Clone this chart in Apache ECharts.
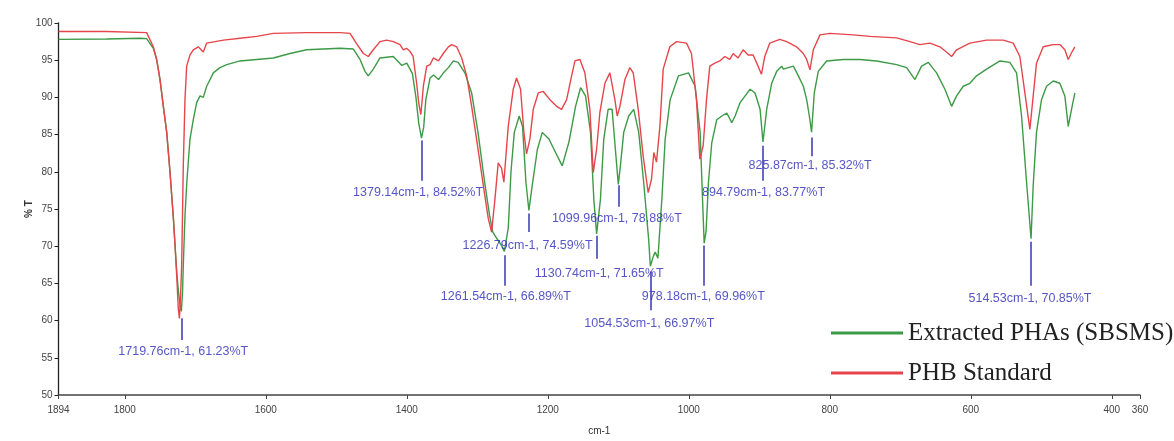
<!DOCTYPE html>
<html>
<head>
<meta charset="utf-8">
<title>FTIR PHA vs PHB</title>
<script src="https://cdn.jsdelivr.net/npm/echarts@6.0.0/dist/echarts.min.js"></script>
<style>
  html, body { margin: 0; padding: 0; background: #fff; }
  #chart_container { width: 1174px; height: 441px; }
</style>
</head>
<body>
<div id="chart_container"></div>
<script>
"use strict";

// wavenumber ticks (cm-1), axis runs high -> low
const xTicks = [1894, 1800, 1600, 1400, 1200, 1000, 800, 600, 400, 360];
const seriesNames = ['Extracted PHAs (SBSMS)', 'PHB Standard'];

// [wavenumber, %T]
const phaSpectrum = [
    [1894, 97.8], [1826, 97.85], [1825, 97.95], [1778, 97.95], [1769, 97.9], [1759.5, 96.6],
    [1754.8, 95.1], [1750, 92.4], [1745.3, 88.8], [1740.5, 85.3], [1735.8, 79.9], [1731, 73.7],
    [1728.7, 70.1], [1726.3, 66.6], [1724, 64], [1721.5, 62], [1719.76, 61.23], [1718, 64],
    [1717, 67.4], [1714.6, 74.1], [1712, 78.6], [1707.5, 84.4], [1702.8, 87], [1698, 89.3],
    [1693.3, 90.2], [1688.6, 90], [1683.8, 91.5], [1674.4, 93.3], [1665, 94], [1655.4, 94.4],
    [1636.5, 94.9], [1612.9, 95.1], [1589.3, 95.3], [1565.6, 95.9], [1542, 96.4], [1518.4, 96.5],
    [1494.7, 96.6], [1475.8, 96.5], [1466.3, 95.1], [1459.2, 93.5], [1454.6, 92.9], [1447.5, 93.8],
    [1438, 95.3], [1419.1, 95.5], [1407, 94.3], [1400, 94.6], [1392, 93.2], [1387, 90],
    [1383, 86.5], [1379.14, 84.52], [1376, 86], [1373, 89.7], [1367, 92.6], [1362, 93],
    [1355, 92.4], [1348, 93.3], [1341, 94], [1334, 94.9], [1327, 94.7], [1317.6, 93.3],
    [1308, 90.6], [1299, 85.3], [1289.6, 78.6], [1282.5, 74.1], [1278, 71.9], [1272, 71],
    [1265, 70], [1261.54, 69.3], [1256, 72.5], [1252.2, 80], [1247.5, 85.3], [1240.5, 87.5],
    [1235.8, 86.1], [1231, 78.6], [1226.79, 74.8], [1222, 78.2], [1214.8, 83], [1207.8, 85.3],
    [1198.4, 84.4], [1189, 82.6], [1179.5, 80.8], [1170, 84], [1160.6, 88.8], [1153.5, 91.3],
    [1146.5, 90.2], [1139.4, 85.3], [1134.7, 76.3], [1130.74, 71.65], [1125.3, 76.3], [1120.6, 84.4],
    [1114.4, 88.4], [1108.8, 88.4], [1104.1, 83], [1099.96, 78.3], [1097, 80.8], [1092.3, 85.3],
    [1085.2, 87.5], [1078.1, 88.4], [1071, 85.3], [1064, 78.6], [1057, 71], [1054.5, 67.3],
    [1050.5, 68.6], [1047.6, 69.2], [1043.8, 68.4], [1038.2, 76.3], [1033.5, 84.4], [1026.4, 89.7],
    [1014.6, 92.9], [1000.4, 93.3], [991, 91.5], [983.9, 85.3], [980.5, 76.3], [978.18, 70.4],
    [975.5, 72], [972.1, 78.6], [967.4, 83.9], [960.3, 87], [953.2, 87.5], [946.1, 87.9],
    [939, 86.6], [934.3, 87.5], [927.2, 89.3], [920.1, 90.2], [913, 91.1], [906, 90.6],
    [898.9, 88.4], [894.79, 84], [889.5, 88.4], [882.4, 91.9], [875.3, 93.5], [868.2, 94.2],
    [865.9, 93.8], [851.7, 94.2], [844.6, 92.9], [837.5, 91.5], [832.8, 89.7], [829, 87.5],
    [825.87, 85.32], [822, 90.6], [816.3, 93.5], [804.5, 94.9], [780.9, 95.1], [757.2, 95.1],
    [733.6, 94.9], [705.2, 94.4], [691, 94], [679.2, 92.4], [669.8, 94.2], [660.3, 94.7],
    [648.5, 93.3], [636.7, 91.1], [627.2, 88.8], [620.1, 90.2], [610.7, 91.5], [601.3, 91.9],
    [591.8, 92.9], [577.6, 93.8], [558.7, 94.9], [544.6, 94.7], [535.1, 93.3], [528, 87.5],
    [520.9, 78.6], [514.53, 71], [511.5, 78.2], [506.8, 85.3], [499.7, 89.7], [492.6, 91.5],
    [483.1, 92.2], [473.7, 91.9], [466.6, 90.2], [461.8, 86.1], [457.1, 88.4], [452.4, 90.6]
];

const phbSpectrum = [
    [1894, 98.85], [1826, 98.85], [1825, 98.7], [1769, 98.7], [1759.5, 96.8], [1754.8, 95.1],
    [1750, 92.4], [1745.3, 88.8], [1740.5, 85.3], [1735.8, 79.9], [1731, 73.7], [1728.7, 70.1],
    [1726.3, 66], [1724, 61.5], [1722.5, 60.3], [1721, 63], [1719.3, 67.4], [1717, 80.8],
    [1714.6, 89.7], [1712.2, 94.2], [1707.5, 95.7], [1702.8, 96.4], [1695.7, 96.8], [1688.6, 96.1],
    [1683.8, 97.3], [1660, 97.7], [1636.5, 97.95], [1612.9, 98.2], [1589.3, 98.6], [1542, 98.7],
    [1494.7, 98.7], [1480.5, 98.6], [1471, 97.2], [1461.6, 95.9], [1454.6, 95.5], [1447.5, 96.4],
    [1438, 97.5], [1428.6, 97.7], [1419.1, 97.5], [1409.6, 97.1], [1404.9, 96.4], [1400.4, 96.6],
    [1395.6, 96.2], [1391, 95.5], [1386, 91.9], [1383, 89.2], [1380, 87.7], [1376.5, 91.5],
    [1371.7, 94.2], [1367, 94.4], [1362.3, 95.3], [1355.2, 94.9], [1348.2, 95.9], [1341, 96.8],
    [1336.3, 97.1], [1329.2, 96.8], [1322.1, 95.3], [1315, 92.9], [1308, 88.8], [1301, 84.4],
    [1291.5, 78.2], [1284.4, 73.7], [1279.7, 71.9], [1275, 76.3], [1270.3, 81.2], [1265.6, 80.5],
    [1262.3, 78.6], [1256.1, 86.1], [1249, 91.1], [1244.3, 92.6], [1238.6, 91.1], [1233.9, 85.3],
    [1230.1, 82.4], [1225.4, 84.4], [1220.6, 88.4], [1213.5, 90.6], [1206.4, 90.8], [1197, 89.7],
    [1187.5, 88.8], [1180.4, 88.4], [1173.3, 89.7], [1166.2, 92.9], [1161.5, 94.9], [1154.4, 95.1],
    [1147.4, 93.3], [1140.3, 88.4], [1135.5, 79.9], [1130.8, 83], [1126.1, 88], [1119, 91.9],
    [1111.9, 93.3], [1104.8, 89.7], [1101.5, 87.5], [1097.7, 88.8], [1090.6, 92.4], [1083.6, 94],
    [1078.8, 93.3], [1071.7, 88.4], [1064.7, 82.1], [1057.6, 77.2], [1052.9, 79], [1049.6, 82.6],
    [1045.8, 81.3], [1041, 86.1], [1036.3, 93.8], [1026.9, 96.8], [1017.4, 97.5], [1003.2, 97.3],
    [996.2, 95.9], [989.1, 89.7], [984.3, 81.7], [979.6, 83.5], [974.9, 89.7], [970.2, 94.2],
    [963.1, 94.6], [956, 94.9], [948.9, 95.5], [941.8, 95.1], [937.1, 95.9], [930, 95.3],
    [922.9, 96.4], [915.8, 95.7], [908.8, 95.7], [901.7, 94.2], [897, 93.1], [892.2, 95.5],
    [885.1, 97.3], [870.9, 97.8], [861.2, 97.5], [847.1, 96.8], [837.5, 95.9], [832.8, 95.1],
    [828.1, 93.7], [823.4, 96.4], [813.9, 98.4], [799.8, 98.6], [766.7, 98.4], [743.1, 98.2],
    [705.2, 98], [686.3, 97.5], [672.2, 97.1], [658, 97.3], [643.8, 96.8], [632, 95.9],
    [627.2, 95.5], [620.1, 96.4], [601.3, 97.3], [577.6, 97.7], [554, 97.7], [539.8, 97.3],
    [530.4, 95.5], [523.3, 90.6], [516.2, 85.7], [511.5, 90.2], [506.8, 94.6], [497.3, 96.8],
    [483.1, 97.1], [473.7, 97.1], [466.6, 96.4], [461.8, 95.1], [457.1, 96], [452.4, 96.8]
];

// peak picks printed on the scan
const peakWn = [1719.76, 1379.14, 1261.54, 1226.79, 1130.74, 1099.96, 1054.53, 978.18, 894.79, 825.87, 514.53];
const peakText = [
    '1719.76cm-1, 61.23%T', '1379.14cm-1, 84.52%T', '1261.54cm-1, 66.89%T', '1226.79cm-1, 74.59%T',
    '1130.74cm-1, 71.65%T', '1099.96cm-1, 78.88%T', '1054.53cm-1, 66.97%T', '978.18cm-1, 69.96%T',
    '894.79cm-1, 83.77%T', '825.87cm-1, 85.32%T', '514.53cm-1, 70.85%T'
];
// where each pick's text sits [cm-1, %T] and the %T span of its marker stroke
const peakTextAt = [
    [1717, 55.9], [1384, 77.2], [1259.5, 63.2], [1228.7, 70.1], [1127, 66.3], [1102, 73.7],
    [1056, 59.6], [979.4, 63.2], [894, 77.2], [828, 80.8], [516, 63]
];
const peakStroke = [
    [60.3, 57.4], [84.2, 78.8], [68.8, 64.7], [74.4, 71.9], [71.4, 68.3], [78.2, 75.3],
    [66.6, 61.4], [70.1, 64.7], [83.5, 78.8], [84.6, 82.1], [70.6, 64.7]
];

const green = '#3d9a46';
const red = '#e6464b';
const peakBlue = '#2a2ab8';

let myChart;

let pageLoaded = () => {
    let chartDom = document.getElementById('chart_container');
    myChart = echarts.init(chartDom, null, { renderer: 'canvas' });

    let peakMarks = peakWn.map((w, i) => [
        { coord: [w, peakStroke[i][0]] },
        { coord: [w, peakStroke[i][1]] }
    ]);

    let option = {
        animation: false,
        backgroundColor: '#fff',
        grid: { left: 58.5, right: 34, top: 23, bottom: 44 },
        legend: {
            data: seriesNames,
            orient: 'vertical',
            left: 826,
            top: 313,
            icon: 'rect',
            itemWidth: 72,
            itemHeight: 3,
            itemGap: 10,
            textStyle: { fontFamily: 'Liberation Serif', fontSize: 25, color: '#222', lineHeight: 30 }
        },
        xAxis: {
            type: 'value',
            inverse: true,
            min: 360,
            max: 1894,
            name: 'cm-1',
            nameLocation: 'middle',
            nameGap: 31,
            nameMoveOverlap: false,
            nameTextStyle: { fontFamily: 'Liberation Sans', fontSize: 10, color: '#333' },
            axisLine: { lineStyle: { color: '#444', width: 1.5 } },
            axisTick: { customValues: xTicks, length: 4, lineStyle: { color: '#444' } },
            axisLabel: {
                customValues: xTicks,
                formatter: (v) => String(v),
                fontFamily: 'Liberation Sans', fontSize: 10, color: '#444', margin: 10
            },
            splitLine: { show: false }
        },
        yAxis: {
            type: 'value',
            min: 50,
            max: 100,
            interval: 5,
            name: '% T',
            nameLocation: 'middle',
            nameGap: 24,
            nameMoveOverlap: false,
            nameRotate: 90,
            nameTextStyle: { fontFamily: 'Liberation Sans', fontSize: 10, fontWeight: 'bold', color: '#333' },
            axisLine: { show: true, lineStyle: { color: '#222', width: 1.3 } },
            axisTick: { show: true, length: 4, lineStyle: { color: '#222' } },
            axisLabel: { fontFamily: 'Liberation Sans', fontSize: 10, color: '#444', margin: 6 },
            splitLine: { show: false }
        },
        series: [
            {
                name: seriesNames[0],
                type: 'line',
                data: phaSpectrum,
                color: green,
                showSymbol: false,
                lineStyle: { color: green, width: 1.4 },
                z: 2
            },
            {
                name: seriesNames[1],
                type: 'line',
                data: phbSpectrum,
                color: red,
                showSymbol: false,
                lineStyle: { color: red, width: 1.4 },
                z: 3
            },
            {
                name: 'peaks',
                type: 'scatter',
                data: peakTextAt,
                symbolSize: 1,
                itemStyle: { color: 'rgba(0,0,0,0)' },
                silent: true,
                z: 4,
                label: {
                    show: true,
                    position: 'inside',
                    formatter: (p) => peakText[p.dataIndex],
                    fontFamily: 'Liberation Sans',
                    fontSize: 12.5,
                    color: peakBlue
                },
                markLine: {
                    silent: true,
                    symbol: ['none', 'none'],
                    label: { show: false },
                    lineStyle: { color: '#3434b0', width: 1.5, type: 'solid' },
                    data: peakMarks
                }
            }
        ]
    };

    myChart.setOption(option);
    console.log(`chart config and creation complete`);
};

window.addEventListener('load', pageLoaded, false);
</script>
</body>
</html>
